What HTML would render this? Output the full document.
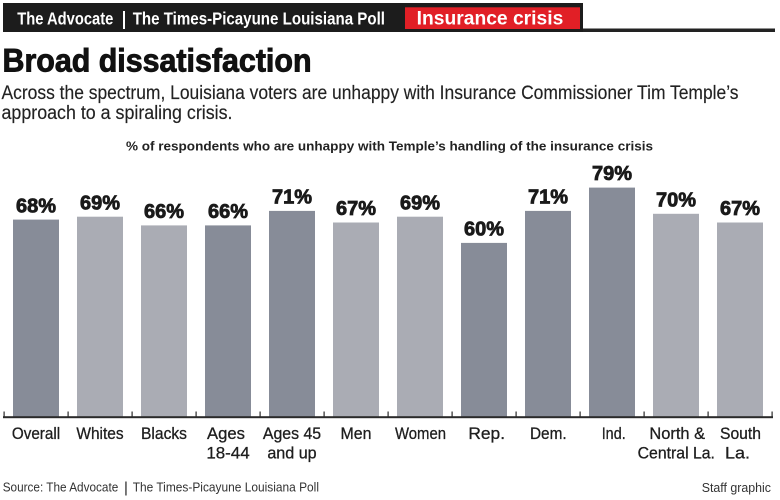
<!DOCTYPE html>
<html>
<head>
<meta charset="utf-8">
<style>
  html, body { margin: 0; padding: 0; background: #fff; }
  svg { display: block; }
  text { font-family: "Liberation Sans", "DejaVu Sans", sans-serif; }
</style>
</head>
<body>
<svg width="780" height="500" viewBox="0 0 780 500" xmlns="http://www.w3.org/2000/svg">
  <rect x="0" y="0" width="780" height="500" fill="#ffffff"/>

  <!-- Header bar -->
  <rect x="3" y="3" width="580" height="29" fill="#1c1c1c"/>
  <rect x="405" y="7.3" width="175" height="21.7" fill="#e11f26"/>
  <rect x="583" y="28.5" width="192" height="3.5" fill="#222"/>
  <text x="17.3" y="24.3" font-size="17.5" font-weight="bold" fill="#fff" textLength="96" lengthAdjust="spacingAndGlyphs">The Advocate</text>
  <rect x="123" y="11" width="2" height="18" fill="#fff"/>
  <text x="132.7" y="24.3" font-size="17.5" font-weight="bold" fill="#fff" textLength="252.3" lengthAdjust="spacingAndGlyphs">The Times-Picayune Louisiana Poll</text>
  <text x="416.7" y="24.5" font-size="19" font-weight="bold" fill="#fff" textLength="146.6" lengthAdjust="spacingAndGlyphs">Insurance crisis</text>

  <!-- Title -->
  <text x="2.5" y="71.5" font-size="32" font-weight="bold" fill="#111" stroke="#111" stroke-width="0.9" textLength="309" lengthAdjust="spacingAndGlyphs">Broad dissatisfaction</text>

  <!-- Subtitle -->
  <text x="1.5" y="99" font-size="19" fill="#222" stroke="#222" stroke-width="0.15" textLength="737" lengthAdjust="spacingAndGlyphs">Across the spectrum, Louisiana voters are unhappy with Insurance Commissioner Tim Temple’s</text>
  <text x="1.5" y="119" font-size="19" fill="#222" stroke="#222" stroke-width="0.15" textLength="231" lengthAdjust="spacingAndGlyphs">approach to a spiraling crisis.</text>

  <!-- Chart subtitle -->
  <text x="126" y="150.7" font-size="13" font-weight="bold" fill="#222" textLength="527" lengthAdjust="spacingAndGlyphs">% of respondents who are unhappy with Temple’s handling of the insurance crisis</text>

  <!-- Bars -->
  <g>
    <rect x="13"  y="219.6" width="46" height="197.4" fill="#878c98"/>
    <rect x="77"  y="216.7" width="46" height="200.3" fill="#aaacb4"/>
    <rect x="141" y="225.4" width="46" height="191.6" fill="#aaacb4"/>
    <rect x="205" y="225.4" width="46" height="191.6" fill="#878c98"/>
    <rect x="269" y="210.9" width="46" height="206.1" fill="#878c98"/>
    <rect x="333" y="222.5" width="46" height="194.5" fill="#aaacb4"/>
    <rect x="397" y="216.7" width="46" height="200.3" fill="#aaacb4"/>
    <rect x="461" y="242.9" width="46" height="174.1" fill="#878c98"/>
    <rect x="525" y="210.9" width="46" height="206.1" fill="#878c98"/>
    <rect x="589" y="187.6" width="46" height="229.4" fill="#878c98"/>
    <rect x="653" y="213.8" width="46" height="203.2" fill="#aaacb4"/>
    <rect x="717" y="222.5" width="46" height="194.5" fill="#aaacb4"/>
  </g>

  <!-- Value labels -->
  <g font-size="20" font-weight="bold" fill="#1a1a1a" stroke="#1a1a1a" stroke-width="0.8" text-anchor="middle">
    <text x="36"  y="212.3">68%</text>
    <text x="100" y="209.4">69%</text>
    <text x="164" y="218.1">66%</text>
    <text x="228" y="218.1">66%</text>
    <text x="292" y="203.6">71%</text>
    <text x="356" y="215.2">67%</text>
    <text x="420" y="209.4">69%</text>
    <text x="484" y="235.6">60%</text>
    <text x="548" y="203.6">71%</text>
    <text x="612" y="179.8">79%</text>
    <text x="676" y="206.5">70%</text>
    <text x="740" y="215.2">67%</text>
  </g>

  <!-- Axis -->
  <rect x="3" y="416.2" width="770" height="2" fill="#2a2a2a"/>
  <g fill="#2a2a2a">
    <rect x="3.5" y="411.5" width="1.2" height="5"/>
    <rect x="67.5" y="411.5" width="1.2" height="5"/>
    <rect x="131.5" y="411.5" width="1.2" height="5"/>
    <rect x="195.5" y="411.5" width="1.2" height="5"/>
    <rect x="259.5" y="411.5" width="1.2" height="5"/>
    <rect x="323.5" y="411.5" width="1.2" height="5"/>
    <rect x="387.5" y="411.5" width="1.2" height="5"/>
    <rect x="451.5" y="411.5" width="1.2" height="5"/>
    <rect x="515.5" y="411.5" width="1.2" height="5"/>
    <rect x="579.5" y="411.5" width="1.2" height="5"/>
    <rect x="643.5" y="411.5" width="1.2" height="5"/>
    <rect x="707.5" y="411.5" width="1.2" height="5"/>
    <rect x="771.5" y="411.5" width="1.2" height="5"/>
  </g>

  <!-- Category labels -->
  <g font-size="17" fill="#1e1e1e" stroke="#1e1e1e" stroke-width="0.3" text-anchor="middle">
    <text x="36" y="439" textLength="48.3" lengthAdjust="spacingAndGlyphs">Overall</text>
    <text x="100" y="439" textLength="47.3" lengthAdjust="spacingAndGlyphs">Whites</text>
    <text x="164" y="439" textLength="46" lengthAdjust="spacingAndGlyphs">Blacks</text>
    <text x="226" y="439" textLength="38" lengthAdjust="spacingAndGlyphs">Ages</text>
    <text x="228" y="458.5" textLength="43.3" lengthAdjust="spacingAndGlyphs">18-44</text>
    <text x="292" y="439" textLength="58.3" lengthAdjust="spacingAndGlyphs">Ages 45</text>
    <text x="292" y="458.5" textLength="49.3" lengthAdjust="spacingAndGlyphs">and up</text>
    <text x="356" y="439" textLength="31" lengthAdjust="spacingAndGlyphs">Men</text>
    <text x="420.5" y="439" textLength="51" lengthAdjust="spacingAndGlyphs">Women</text>
    <text x="486.7" y="439" textLength="36.7" lengthAdjust="spacingAndGlyphs">Rep.</text>
    <text x="548.3" y="439" textLength="36.7" lengthAdjust="spacingAndGlyphs">Dem.</text>
    <text x="613.7" y="439" textLength="24" lengthAdjust="spacingAndGlyphs">Ind.</text>
    <text x="677.2" y="439" textLength="55.7" lengthAdjust="spacingAndGlyphs">North &amp;</text>
    <text x="676.3" y="458.5" textLength="77.3" lengthAdjust="spacingAndGlyphs">Central La.</text>
    <text x="740.5" y="439" textLength="41" lengthAdjust="spacingAndGlyphs">South</text>
    <text x="737.5" y="458.5" textLength="25" lengthAdjust="spacingAndGlyphs">La.</text>
  </g>

  <!-- Footer -->
  <text x="2.7" y="491.7" font-size="13" fill="#333" textLength="115.6" lengthAdjust="spacingAndGlyphs">Source: The Advocate</text>
  <rect x="125.3" y="481.5" width="1.3" height="14" fill="#333"/>
  <text x="132.7" y="491.7" font-size="13" fill="#333" textLength="186.3" lengthAdjust="spacingAndGlyphs">The Times-Picayune Louisiana Poll</text>
  <text x="701.7" y="492" font-size="13" fill="#333" textLength="69.3" lengthAdjust="spacingAndGlyphs">Staff graphic</text>
</svg>
</body>
</html>
